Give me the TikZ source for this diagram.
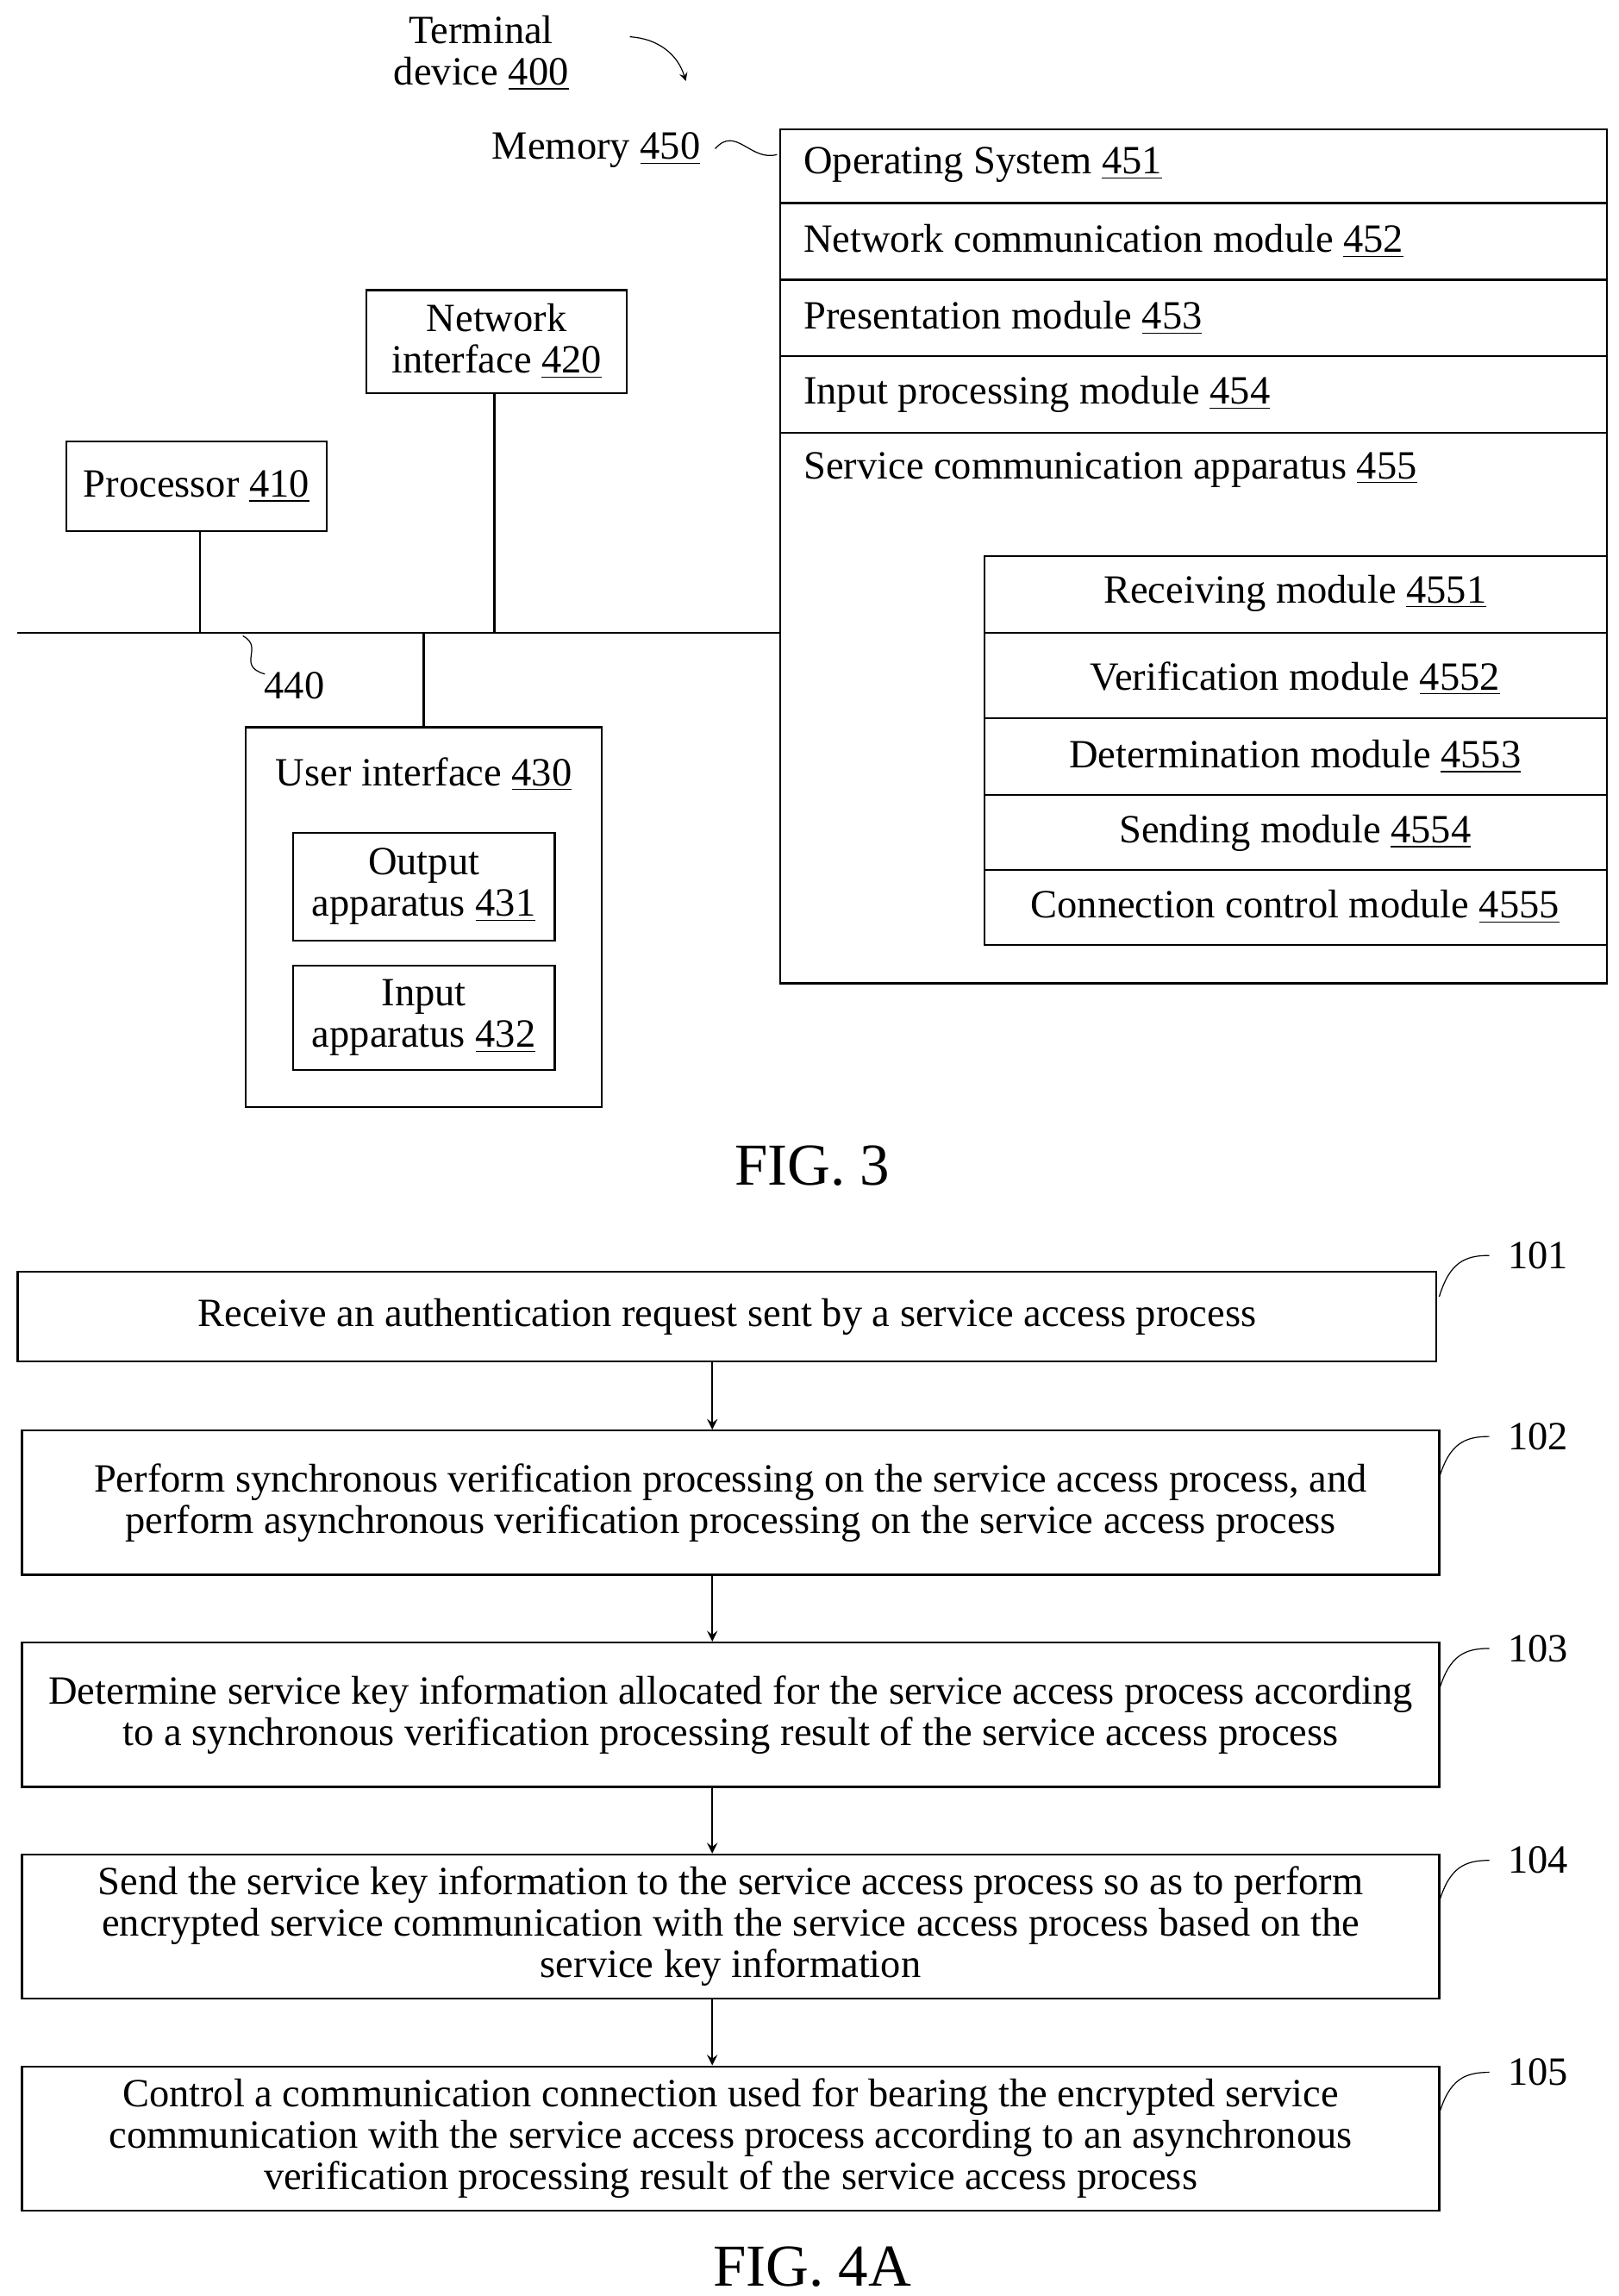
\documentclass[tikz,border=0pt]{standalone}
\usepackage{fontspec}
\setmainfont{Liberation Serif}
\usetikzlibrary{positioning}
\newcommand{\refno}[1]{\underline{#1}}
\tikzset{
  box/.style={draw, thick, inner sep=0pt},
  txt/.style={font=\fontsize{15.5}{16}\selectfont, align=center, inner sep=1pt},
  stepbox/.style={draw, thick, font=\fontsize{15.5}{16}\selectfont, align=center, inner sep=0pt},
  lead/.style={thick},
  flow/.style={->, >=stealth, thick},
  fig/.style={font=\fontsize{23}{25}\selectfont}
}
\begin{document}
\begin{tikzpicture}[x=0.02cm, y=-0.02cm]
        \useasboundingbox (0,0) rectangle (1100,1560);

        % FIG. 3
        \node[txt] (term) at (327,36) {Terminal\\device \refno{400}};
        \coordinate (t1) at (428,25);
        \coordinate (t2) at (466,55);
        \draw[->, >=stealth] (t1) to[bend left=35] (t2);

        \node[txt, anchor=east] (memlbl) at (478,102) {Memory \refno{450}};
        \coordinate (m1) at (486,101);
        \coordinate (m2) at (528,105);
        \draw (m1) .. controls (500,85) and (510,110) .. (m2);

        \draw[box] (530,88) rectangle (1092,668);
        \foreach \y in {138,190,242,294}
            \draw[thick] (530,\y) -- (1092,\y);
        \node[txt, anchor=west] (os)  at (544,112) {Operating System \refno{451}};
        \node[txt, anchor=west] (ncm) at (544,164) {Network communication module \refno{452}};
        \node[txt, anchor=west] (pm)  at (544,216) {Presentation module \refno{453}};
        \node[txt, anchor=west] (ipm) at (544,268) {Input processing module \refno{454}};
        \node[txt, anchor=west] (sca) at (544,319) {Service communication apparatus \refno{455}};

        \draw[box] (669,378) rectangle (1092,642);
        \foreach \y in {430,488,540,591}
            \draw[thick] (669,\y) -- (1092,\y);
        \node[txt] (rm)  at (880,403) {Receiving module \refno{4551}};
        \node[txt] (vm)  at (880,461) {Verification module \refno{4552}};
        \node[txt] (dm)  at (880,514) {Determination module \refno{4553}};
        \node[txt] (sm)  at (880,566) {Sending module \refno{4554}};
        \node[txt] (ccm) at (880,616) {Connection control module \refno{4555}};

        \node[box, txt, minimum width=177*0.02cm, minimum height=70*0.02cm] (net) at (337.5,232) {Network\\interface \refno{420}};
        \node[box, txt, minimum width=177*0.02cm, minimum height=61*0.02cm] (proc) at (133.5,330.5) {Processor \refno{410}};

        % bus
        \coordinate (busL) at (12,430);
        \coordinate (busR) at (530,430);
        \draw[lead] (busL) -- (busR);
        \coordinate (pb) at (136,430);
        \coordinate (nb) at (336,430);
        \coordinate (ub) at (288,430);
        \draw[lead] (proc.south -| pb) -- (pb);
        \draw[lead] (net.south -| nb) -- (nb);

        \node[txt] (bus) at (200,466) {440};
        \draw (165,432) .. controls (180,440) and (160,452) .. (180,458);

        \node[box, minimum width=242*0.02cm, minimum height=258*0.02cm] (ui) at (288,623) {};
        \draw[lead] (ub) -- (ui.north);
        \node[txt] (uilbl) at (288,526) {User interface \refno{430}};
        \node[box, txt, minimum width=178*0.02cm, minimum height=73*0.02cm] (out) at (288,602.5) {Output\\apparatus \refno{431}};
        \node[box, txt, minimum width=178*0.02cm, minimum height=71*0.02cm] (in) at (288,691.5) {Input\\apparatus \refno{432}};

        \node[fig] (fig3) at (552,792) {FIG. 3};

        % FIG. 4A
        \node[stepbox, minimum width=964*0.02cm, minimum height=61*0.02cm] (s101) at (494,894.5) {Receive an authentication request sent by a service access process};
        \node[stepbox, minimum width=963*0.02cm, minimum height=98*0.02cm] (s102) at (496.5,1021) {Perform synchronous verification processing on the service access process, and\\perform asynchronous verification processing on the service access process};
        \node[stepbox, minimum width=963*0.02cm, minimum height=98*0.02cm] (s103) at (496.5,1165) {Determine service key information allocated for the service access process according\\to a synchronous verification processing result of the service access process};
        \node[stepbox, minimum width=963*0.02cm, minimum height=98*0.02cm] (s104) at (496.5,1309) {Send the service key information to the service access process so as to perform\\encrypted service communication with the service access process based on the\\service key information};
        \node[stepbox, minimum width=963*0.02cm, minimum height=98*0.02cm] (s105) at (496.5,1453) {Control a communication connection used for bearing the encrypted service\\communication with the service access process according to an asynchronous\\verification processing result of the service access process};

        \draw[flow] (s101.south -| 484,0) -- (s102.north -| 484,0);
        \draw[flow] (s102.south -| 484,0) -- (s103.north -| 484,0);
        \draw[flow] (s103.south -| 484,0) -- (s104.north -| 484,0);
        \draw[flow] (s104.south -| 484,0) -- (s105.north -| 484,0);

        \foreach \n/\y in {101/853, 102/976, 103/1120, 104/1264, 105/1408} {
            \node[txt] (l\n) at (1045,\y) {\n};
            \draw (978,\y+28) .. controls (985,\y+5) and (995,\y) .. (1012,\y);
        }

        \node[fig] (fig4) at (552,1540) {FIG. 4A};
    \end{tikzpicture}
\end{document}
